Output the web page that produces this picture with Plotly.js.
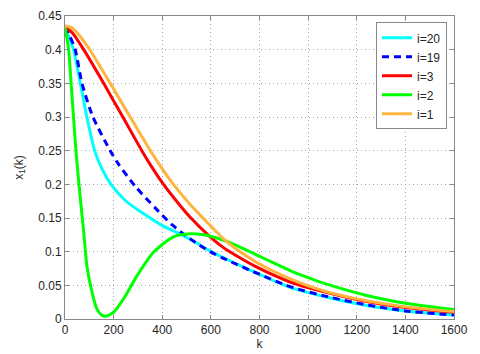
<!DOCTYPE html>
<html>
<head>
<meta charset="utf-8">
<script src="https://cdn.plot.ly/plotly-3.0.1.min.js"></script>
<style>
  html, body { margin: 0; padding: 0; background: #fff; }
  #chart { width: 480px; height: 354px; }
</style>
</head>
<body>
<div id="chart"></div>
<script>
// values, x = k, y = x1(k)
let k20 = [0, 15, 35, 63, 90, 122, 152, 193, 248, 316, 399, 481, 536, 597, 652, 789, 926, 1070, 1241, 1400, 1600];
let v20 = [0.434, 0.42, 0.40, 0.35, 0.30, 0.25, 0.223, 0.198, 0.176, 0.158, 0.139, 0.125, 0.114, 0.101, 0.091, 0.068, 0.047, 0.033, 0.020, 0.012, 0.006];

let k19 = [0, 20, 42, 70, 115, 186, 220, 289, 371, 440, 515, 597, 652, 789, 926, 1070, 1241, 1400, 1600];
let v19 = [0.434, 0.42, 0.40, 0.35, 0.30, 0.25, 0.23, 0.197, 0.165, 0.140, 0.119, 0.100, 0.090, 0.068, 0.048, 0.034, 0.021, 0.012, 0.006];

let k3 = [0, 30, 77, 159, 238, 316, 360, 400, 450, 515, 597, 652, 700, 789, 926, 1070, 1241, 1400, 1600];
let v3 = [0.434, 0.425, 0.40, 0.35, 0.30, 0.25, 0.224, 0.2025, 0.179, 0.151, 0.122, 0.106, 0.095, 0.077, 0.055, 0.040, 0.026, 0.017, 0.010];

let k2 = [0, 15, 25, 35, 45, 52, 63, 77, 90, 111, 131, 150, 166, 200, 241, 296, 364, 446, 515, 570, 652, 700, 789, 860, 926, 1000, 1070, 1241, 1400, 1600];
let v2 = [0.434, 0.40, 0.35, 0.30, 0.25, 0.222, 0.179, 0.129, 0.079, 0.040, 0.015, 0.006, 0.004, 0.010, 0.030, 0.064, 0.099, 0.122, 0.1265, 0.125, 0.117, 0.110, 0.095, 0.083, 0.072, 0.0615, 0.0525, 0.035, 0.0235, 0.014];

let k1 = [0, 25, 50, 100, 186, 268, 351, 400, 450, 515, 597, 652, 700, 789, 926, 1070, 1241, 1400, 1600];
let v1 = [0.435, 0.433, 0.425, 0.401, 0.35, 0.30, 0.25, 0.223, 0.198, 0.170, 0.139, 0.119, 0.105, 0.084, 0.0595, 0.041, 0.027, 0.018, 0.011];

let names = ['i=20', 'i=19', 'i=3', 'i=2', 'i=1'];
let colors = ['#00ffff', '#0000ff', '#ff0000', '#00ff00', 'rgb(255,180,64)'];

let xs = [k20, k19, k3, k2, k1];
let ys = [v20, v19, v3, v2, v1];

let traces = [];
for (let i = 0; i < names.length; i++) {
    traces.push({
        x: xs[i],
        y: ys[i],
        name: names[i],
        type: 'scatter',
        mode: 'lines',
        line: {
            color: colors[i],
            width: 3,
            shape: 'spline',
            smoothing: 0.7,
            dash: i === 1 ? '7px,5px' : 'solid'
        },
        hoverinfo: 'none'
    });
}

let axisStyle = {
    showline: true,
    mirror: 'ticks',
    linecolor: '#888',
    linewidth: 1,
    ticks: 'inside',
    ticklen: 4,
    tickcolor: '#888',
    showgrid: true,
    gridcolor: '#a8a8a8',
    griddash: '1px,3px',
    gridwidth: 1,
    zeroline: false,
    fixedrange: true
};

let layout = {
    width: 480,
    height: 354,
    autosize: false,
    margin: { l: 65, r: 26, t: 16, b: 35, pad: 0 },
    paper_bgcolor: '#fff',
    plot_bgcolor: '#fff',
    font: { family: 'Liberation Sans, Arial, sans-serif', size: 12, color: '#262626' },
    showlegend: true,
    legend: {
        x: 0.982,
        y: 0.979,
        xanchor: 'right',
        yanchor: 'top',
        bgcolor: '#fff',
        bordercolor: '#888',
        borderwidth: 1,
        font: { size: 12 },
        tracegroupgap: 0
    },
    xaxis: Object.assign({}, axisStyle, {
        range: [0, 1600],
        dtick: 200,
        tick0: 0,
        title: { text: 'k', standoff: 2, font: { size: 12 } }
    }),
    yaxis: Object.assign({}, axisStyle, {
        range: [0, 0.45],
        dtick: 0.05,
        tick0: 0,
        title: { text: 'x<sub>1</sub>(k)', standoff: 12, font: { size: 12 } }
    })
};

Plotly.newPlot('chart', traces, layout, { staticPlot: true, displayModeBar: false });
</script>
</body>
</html>
